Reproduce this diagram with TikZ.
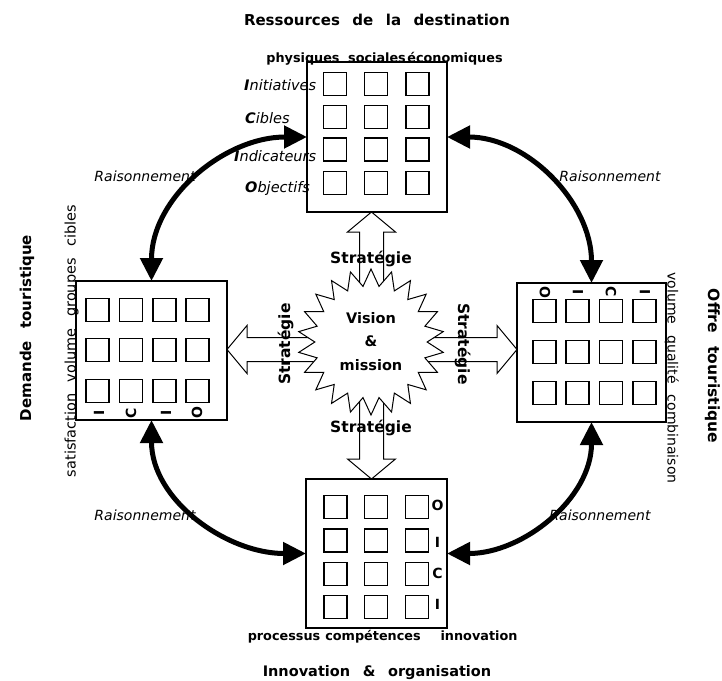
\documentclass[tikz,border=0pt]{standalone}
\usepackage{fontspec}
\setmainfont{DejaVu Sans}[WordSpace=2.4]
\newfontfamily\widespaced{DejaVu Sans}[WordSpace=3.6]
\newfontfamily\sidefont{DejaVu Sans}[WordSpace=2.2]
\newfontfamily\leftfont{DejaVu Sans}[WordSpace=2.5]
\usetikzlibrary{arrows.meta,shapes.geometric,calc}

% hollow block arrow: tip coordinate, pointing angle, total length
\newcommand{\hollowarrow}[3]{%
  \draw[hollow,shift={(#1)},rotate=#2] (0,0) -- (-20,24) -- (-20,12) -- (-#3,12)
    -- (-#3,-12) -- (-20,-12) -- (-20,-24) -- cycle;}

\begin{document}
\begin{tikzpicture}[x=1pt,y=-1pt,
  panel/.style={draw=black, line width=1.3pt, inner sep=0pt, outer sep=0pt, anchor=north west},
  cell/.style={draw=black, line width=1.2pt, minimum width=23pt, minimum height=23pt, inner sep=0pt},
  heading/.style={font=\fontsize{15}{18}\selectfont\bfseries, inner sep=0pt, anchor=base},
  colhead/.style={font=\fontsize{12.8}{15}\selectfont\bfseries, inner sep=0pt, anchor=base},
  sidewords/.style={font=\sidefont\fontsize{14}{16}\selectfont, inner sep=0pt, anchor=base},
  rowlab/.style={font=\fontsize{14.5}{17}\selectfont\itshape, inner sep=0pt, anchor=base west},
  cellmark/.style={font=\fontsize{14}{16}\selectfont\bfseries, inner sep=0pt},
  reason/.style={line width=5pt, {Triangle[length=23pt,width=22pt]}-{Triangle[length=23pt,width=22pt]}},
  reasonlab/.style={font=\fontsize{14}{16}\selectfont\itshape, inner sep=0pt, anchor=base},
  strat/.style={font=\fontsize{15.5}{18}\selectfont\bfseries, inner sep=0pt, anchor=base},
  hollow/.style={draw=black, fill=white, line width=1pt, line join=miter},
]
\useasboundingbox (0,0) rectangle (722,680);

% the four panels
\node[panel, minimum width=140pt, minimum height=150pt] (res) at (307,62) {};
\node[panel, minimum width=151pt, minimum height=139pt] (dem) at (76,281) {};
\node[panel, minimum width=149pt, minimum height=139pt] (off) at (517,283) {};
\node[panel, minimum width=141pt, minimum height=149pt] (inn) at (306,479) {};

% grids of cells
\foreach \cx [count=\c] in {335,376,417.5}
  \foreach \cy [count=\r] in {84,117,149.5,183}
    \node[cell] (res-\r-\c) at (\cx,\cy) {};
\foreach \cx [count=\c] in {97.5,131,164.5,197.5}
  \foreach \cy [count=\r] in {310,350,391}
    \node[cell] (dem-\r-\c) at (\cx,\cy) {};
\foreach \cx [count=\c] in {544.5,577.5,611,644.5}
  \foreach \cy [count=\r] in {311,352,393}
    \node[cell] (off-\r-\c) at (\cx,\cy) {};
\foreach \cx [count=\c] in {335.5,376,417}
  \foreach \cy [count=\r] in {507,540.5,574,607}
    \node[cell] (inn-\r-\c) at (\cx,\cy) {};

% strategy arrows from the centre
\coordinate (hub) at (371.5,349.5);
\coordinate (tipN) at (hub |- res.south);
\coordinate (tipS) at (hub |- inn.north);
\coordinate (tipW) at (hub -| dem.east);
\coordinate (tipE) at (hub -| off.west);
\hollowarrow{tipN}{90}{95}
\hollowarrow{tipS}{-90}{100}
\hollowarrow{tipW}{180}{110}
\hollowarrow{tipE}{0}{110}

% vision star
\node[star, star points=22, star point ratio=1.3, minimum size=146pt, inner sep=0pt,
      draw=black, fill=white, line width=1pt] (vm) at (371,342) {};
\node[font=\fontsize{14.5}{23.7}\selectfont\bfseries, align=center, inner sep=0pt]
  (vmtext) at (371,341.5) {Vision\\\&\\mission};

% strategy labels
\node[strat] (sN) at (371,263.3) {Stratégie};
\node[strat] (sS) at (371,432.7) {Stratégie};
\node[strat, rotate=90] (sW) at (290,344) {Stratégie};
\node[strat, rotate=-90] (sE) at (458,344) {Stratégie};

% reasoning loops
\draw[reason] (res.west) to[out=180,in=90] (dem.north);
\draw[reason] (res.east) to[out=0,in=90] (off.north);
\draw[reason] (dem.south) to[out=-90,in=180] (inn.west);
\draw[reason] (off.south) to[out=-90,in=0] (inn.east);
\node[reasonlab] (rNW) at (145,181.7) {Raisonnement};
\node[reasonlab] (rNE) at (610,181.7) {Raisonnement};
\node[reasonlab] (rSW) at (145,520) {Raisonnement};
\node[reasonlab] (rSE) at (600,520) {Raisonnement};

% headings
\node[heading] (hRes) at (377,25) {Ressources de la destination};
\node[heading, font=\widespaced\bfseries\fontsize{14.5}{18}\selectfont] (hInn) at (377,676) {Innovation \& organisation};
\node[heading, rotate=90] (hDem) at (31,328) {Demande touristique};
\node[heading, rotate=-90, font=\widespaced\bfseries\fontsize{15.5}{18}\selectfont] (hOff) at (708,366) {Offre touristique};

% resources panel labels
\node[colhead] at (303,62) {physiques};
\node[colhead] at (377,62) {sociales};
\node[colhead] at (455,62) {économiques};
\node[rowlab] at (244,90) {\textbf{I}nitiatives};
\node[rowlab] at (245,123.3) {\textbf{C}ibles};
\node[rowlab] at (234,161) {\textbf{I}ndicateurs};
\node[rowlab] at (245,192.7) {\textbf{O}bjectifs};

% innovation panel labels
\node[colhead] at (284,640) {processus};
\node[colhead] at (373,640) {compétences};
\node[colhead] at (479,640) {innovation};
\node[cellmark] at (437.5,505) {O};
\node[cellmark] at (437.5,542) {I};
\node[cellmark] at (437.5,573) {C};
\node[cellmark] at (437.5,604) {I};

% demand panel labels
\node[sidewords, font=\leftfont\fontsize{14.5}{16}\selectfont, rotate=90] at (75.5,341) {satisfaction volume groupes cibles};
\node[cellmark, rotate=90] at (99,413) {I};
\node[cellmark, rotate=90] at (131,413) {C};
\node[cellmark, rotate=90] at (166,413) {I};
\node[cellmark, rotate=90] at (197,413) {O};

% supply panel labels
\node[sidewords, rotate=-90] at (667.5,378) {volume qualité combinaison};
\node[cellmark, rotate=-90] at (545,292) {O};
\node[cellmark, rotate=-90] at (578,292) {I};
\node[cellmark, rotate=-90] at (611,292) {C};
\node[cellmark, rotate=-90] at (645,292) {I};
\end{tikzpicture}
\end{document}
